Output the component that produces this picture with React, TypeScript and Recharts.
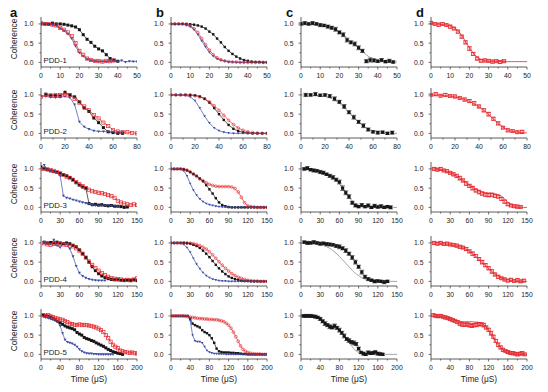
import React from 'react';
import { ComposedChart, Line, XAxis, YAxis, ErrorBar } from 'recharts';

const RED = '#e3262b';
const BLUE = '#3b4ba6';
const BLACK = '#161616';
const GRAY = '#8c8c8c';
const AXIS = '#333';

// ---- row 1 (PDD-1), time 0-50
const t1 = [0, 2, 4, 6, 8, 10, 12, 14, 16, 18, 20, 22, 24, 26, 28, 30, 32, 34, 36, 38, 40, 42, 44, 46, 48, 50];
const a1Black = [1.0, 1.0, 0.99, 1.02, 1.0, 1.0, 0.99, 0.97, 0.95, 0.92, 0.85, 0.72, 0.6, 0.52, 0.42, 0.35, 0.3, 0.2, 0.1, 0.06, 0.03, null, null, null, null, null];
const a1Red = [1.02, 1.0, 1.0, 0.98, 0.96, 0.9, 0.85, 0.78, 0.68, 0.5, 0.3, 0.2, 0.1, 0.06, 0.04, 0.03, 0.02, 0.04, 0.03, 0.05, null, null, null, null, null, null];
const a1Blue = [1.0, 1.0, 0.99, 0.97, 0.95, 0.88, 0.82, 0.74, 0.62, 0.42, 0.25, 0.16, 0.08, 0.05, 0.03, 0.02, 0.02, 0.02, 0.03, 0.04, 0.02, 0.05, 0.01, 0.03, 0.02, 0.02];
const b1Black = [1.0, 1.0, 1.0, 1.0, 1.0, 0.99, 0.98, 0.96, 0.93, 0.88, 0.8, 0.73, 0.62, 0.52, 0.4, 0.3, 0.22, 0.15, 0.1, 0.06, 0.04, 0.02, 0.01, 0.01, 0.0, 0.0];
const b1Red = [1.0, 1.0, 1.0, 1.0, 0.98, 0.95, 0.88, 0.78, 0.62, 0.46, 0.32, 0.2, 0.12, 0.07, 0.04, 0.02, 0.01, 0.01, 0, 0, 0, 0, 0, 0, 0, 0];
const b1Blue = [1.0, 1.0, 1.0, 0.99, 0.97, 0.93, 0.85, 0.72, 0.56, 0.4, 0.26, 0.16, 0.09, 0.05, 0.03, 0.01, 0.01, 0, 0, 0, 0, 0, 0, 0, 0, 0];
const c1Black = [1.0, 1.02, 1.0, 1.02, 1.0, 0.97, 0.96, 0.93, 0.9, 0.86, 0.78, 0.72, 0.58, 0.52, 0.48, 0.38, 0.3, 0.03, 0.06, 0.05, 0.03, 0.06, 0.02, 0.04, 0.01, null];
const c1Err = [0.03, 0.04, 0.03, 0.04, 0.03, 0.04, 0.03, 0.04, 0.04, 0.05, 0.04, 0.05, 0.05, 0.04, 0.05, 0.05, 0.04, 0.04, 0.05, 0.04, 0.03, 0.04, 0.03, 0.04, 0.03, 0];
const c1Fit = [1.0, 1.0, 1.0, 0.99, 0.98, 0.97, 0.95, 0.93, 0.89, 0.85, 0.79, 0.71, 0.62, 0.53, 0.45, 0.37, 0.28, 0.2, 0.13, 0.09, 0.06, 0.04, 0.02, 0.01, 0.01, 0.01];
const d1Red = [1.03, 1.0, 0.98, 1.0, 0.97, 0.93, 0.88, 0.8, 0.67, 0.52, 0.36, 0.22, 0.1, 0.04, 0.05, 0.04, 0.02, 0.03, 0.01, 0.03, null, null, null, null, null, null];
const d1Err = [0.03, 0.03, 0.04, 0.03, 0.03, 0.04, 0.03, 0.04, 0.04, 0.04, 0.05, 0.04, 0.04, 0.03, 0.04, 0.03, 0.04, 0.03, 0.04, 0.03, 0, 0, 0, 0, 0, 0];
const d1Fit = [1.0, 1.0, 0.99, 0.98, 0.97, 0.95, 0.9, 0.82, 0.7, 0.54, 0.38, 0.24, 0.14, 0.08, 0.05, 0.03, 0.02, 0.02, 0.02, 0.02, 0.02, 0.02, 0.02, 0.02, 0.02, 0.02];

// ---- row 2 (PDD-2), time 0-80
const t2 = [0, 4, 8, 12, 16, 20, 24, 28, 32, 36, 40, 44, 48, 52, 56, 60, 64, 68, 72, 76, 80];
const a2Black = [null, 1.02, 0.98, 0.98, 0.97, 1.07, 1.0, 0.95, 0.82, 0.66, 0.57, 0.4, 0.28, 0.15, 0.04, 0.02, 0.0, 0.0, null, null, null];
const a2Red = [0.95, 1.0, 0.99, 1.0, 1.0, 1.01, 1.0, 0.9, 0.8, 0.7, 0.6, 0.48, 0.39, 0.28, 0.19, 0.09, 0.05, 0.03, 0.03, 0.01, 0.0];
const a2Blue = [0.97, 0.96, 0.94, 0.93, 0.94, 0.96, 0.93, 0.75, 0.3, 0.17, 0.11, 0.07, 0.05, 0.05, 0.04, 0.04, 0.03, 0.03, null, null, null];
const b2Black = [1.0, 1.0, 1.0, 1.0, 1.0, 0.99, 0.96, 0.9, 0.8, 0.66, 0.5, 0.35, 0.22, 0.12, 0.06, 0.03, 0.01, 0, 0, 0, 0];
const b2Red = [1.0, 1.0, 1.0, 1.0, 0.99, 0.98, 0.95, 0.9, 0.82, 0.72, 0.6, 0.47, 0.34, 0.23, 0.14, 0.08, 0.04, 0.02, 0.01, 0, 0];
const b2Blue = [1.0, 1.0, 1.0, 0.99, 0.95, 0.85, 0.66, 0.45, 0.27, 0.14, 0.07, 0.03, 0.01, 0, 0, 0, 0, 0, 0, 0, 0];
const c2Black = [null, 1.0, 1.0, 1.02, 0.99, 1.0, 0.97, 0.9, 0.82, 0.7, 0.55, 0.42, 0.3, 0.2, 0.1, 0.04, 0.02, 0.03, 0.0, 0.02, null];
const c2Err = [0, 0.04, 0.03, 0.04, 0.03, 0.03, 0.04, 0.05, 0.04, 0.05, 0.04, 0.05, 0.04, 0.05, 0.04, 0.03, 0.04, 0.03, 0.03, 0.04, 0];
const c2Fit = [1.0, 1.0, 1.0, 0.99, 0.98, 0.96, 0.93, 0.87, 0.78, 0.67, 0.54, 0.41, 0.29, 0.19, 0.12, 0.07, 0.04, 0.02, 0.01, 0.01, 0.0];
const d2Red = [1.0, 1.02, 0.98, 1.0, 0.97, 0.96, 0.92, 0.88, 0.84, 0.78, 0.7, 0.6, 0.5, 0.38, 0.26, 0.15, 0.08, 0.06, 0.03, 0.04, null];
const d2Err = [0.03, 0.04, 0.03, 0.04, 0.03, 0.04, 0.03, 0.04, 0.04, 0.05, 0.04, 0.04, 0.05, 0.04, 0.04, 0.03, 0.04, 0.03, 0.03, 0.04, 0];
const d2Fit = [1.0, 1.0, 0.99, 0.98, 0.97, 0.95, 0.92, 0.88, 0.83, 0.77, 0.69, 0.6, 0.49, 0.37, 0.26, 0.16, 0.09, 0.05, 0.03, 0.02, 0.01];

// ---- rows 3 and 4 (PDD-3, PDD-4), time 0-150
const t3 = [0, 5, 10, 15, 20, 25, 30, 35, 40, 45, 50, 55, 60, 65, 70, 75, 80, 85, 90, 95, 100, 105, 110, 115, 120, 125, 130, 135, 140, 145, 150];
const a3Black = [1.05, 1.02, 0.98, 0.95, 0.93, 0.91, 0.89, 0.85, 0.82, 0.78, 0.72, 0.64, 0.58, 0.53, 0.5, 0.1, 0.07, 0.08, 0.06, 0.07, 0.05, 0.04, 0.05, 0.03, 0.03, 0.02, 0.0, 0.01, null, null, null];
const a3Red = [1.0, 1.0, 0.99, 0.97, 0.95, 0.92, 0.88, 0.84, 0.8, 0.76, 0.72, 0.66, 0.6, 0.55, 0.5, 0.46, 0.42, 0.4, 0.38, 0.37, 0.35, 0.32, 0.29, 0.25, 0.17, 0.13, 0.1, 0.08, 0.06, 0.08, 0.06];
const a3Blue = [null, 1.1, 0.98, 0.95, 0.94, 0.9, 0.82, 0.3, 0.25, 0.23, 0.2, 0.18, 0.15, 0.13, 0.11, 0.09, 0.06, 0.05, 0.04, 0.04, 0.05, 0.06, 0.04, 0.04, 0.03, null, null, null, null, null, null];
const b3Black = [1.0, 1.0, 1.0, 1.0, 0.99, 0.96, 0.92, 0.87, 0.82, 0.75, 0.68, 0.58, 0.47, 0.36, 0.24, 0.13, 0.06, 0.03, 0.01, 0, 0, 0, 0, 0, 0, 0, 0, 0, 0, 0, 0];
const b3Red = [1.0, 1.0, 1.0, 1.0, 0.99, 0.97, 0.92, 0.86, 0.8, 0.74, 0.69, 0.64, 0.6, 0.57, 0.55, 0.54, 0.54, 0.54, 0.54, 0.53, 0.49, 0.4, 0.26, 0.12, 0.04, 0.02, 0.01, 0, 0, 0, 0];
const b3Blue = [1.0, 1.0, 1.0, 0.99, 0.95, 0.82, 0.62, 0.45, 0.32, 0.22, 0.15, 0.1, 0.07, 0.05, 0.03, 0.02, 0.01, 0.01, 0, 0, 0, 0, 0, 0, 0, 0, 0, 0, 0, 0, 0];
const c3Black = [null, 1.0, 1.02, 0.98, 0.96, 0.95, 0.92, 0.9, 0.86, 0.82, 0.78, 0.72, 0.66, 0.5, 0.38, 0.28, 0.12, 0.05, 0.02, 0.06, 0.02, 0.05, 0.0, 0.04, 0.01, 0.03, 0.0, 0.02, 0.0, null, null];
const c3Err = [0, 0.03, 0.04, 0.03, 0.04, 0.03, 0.04, 0.04, 0.03, 0.04, 0.05, 0.04, 0.05, 0.06, 0.05, 0.05, 0.04, 0.04, 0.03, 0.04, 0.03, 0.04, 0.03, 0.04, 0.03, 0.04, 0.03, 0.03, 0.04, 0, 0];
const c3Fit = [1.0, 1.0, 0.99, 0.98, 0.96, 0.94, 0.92, 0.89, 0.86, 0.82, 0.77, 0.7, 0.61, 0.5, 0.38, 0.27, 0.17, 0.1, 0.06, 0.03, 0.02, 0.01, 0.01, 0, 0, 0, 0, 0, 0, 0, 0];
const d3Red = [null, 1.0, 0.98, 1.0, 0.96, 0.94, 0.9, 0.86, 0.82, 0.76, 0.7, 0.62, 0.56, 0.5, 0.44, 0.4, 0.36, 0.33, 0.32, 0.33, 0.3, 0.28, 0.22, 0.15, 0.08, 0.05, 0.03, 0.02, 0.01, null, null];
const d3Err = [0, 0.04, 0.03, 0.04, 0.03, 0.04, 0.03, 0.04, 0.04, 0.05, 0.04, 0.05, 0.04, 0.05, 0.04, 0.05, 0.04, 0.04, 0.05, 0.04, 0.04, 0.03, 0.04, 0.04, 0.03, 0.03, 0.03, 0.04, 0.03, 0, 0];
const d3Fit = [1.0, 1.0, 0.99, 0.98, 0.96, 0.93, 0.9, 0.86, 0.81, 0.76, 0.7, 0.64, 0.58, 0.52, 0.47, 0.43, 0.4, 0.38, 0.37, 0.36, 0.35, 0.33, 0.29, 0.22, 0.14, 0.07, 0.03, 0.01, 0, 0, 0];

const a4Black = [null, 1.02, 1.0, 1.01, 1.0, 1.02, 1.0, 0.98, 1.0, 0.98, 0.94, 0.9, 0.82, 0.72, 0.62, 0.5, 0.38, 0.28, 0.2, 0.14, 0.1, 0.07, 0.05, 0.04, 0.04, 0.03, 0.02, 0.03, 0.02, 0.04, 0.02];
const a4Red = [null, 0.99, 0.96, 0.95, 0.97, 0.98, 0.97, 0.96, 0.95, 0.93, 0.91, 0.86, 0.8, 0.72, 0.62, 0.52, 0.43, 0.35, 0.28, 0.22, 0.16, 0.12, 0.09, 0.07, 0.06, 0.05, 0.04, 0.04, 0.03, 0.05, 0.08];
const a4Blue = [null, 1.0, 0.98, 0.97, 1.08, 0.93, 0.88, 0.99, 0.97, 0.85, 0.65, 0.4, 0.22, 0.14, 0.09, 0.06, 0.04, 0.03, 0.02, 0.02, 0.02, null, null, null, null, null, null, null, null, null, null];
const b4Black = [1.0, 1.0, 1.0, 1.0, 1.0, 0.99, 0.98, 0.95, 0.92, 0.87, 0.8, 0.72, 0.63, 0.53, 0.43, 0.34, 0.26, 0.19, 0.13, 0.09, 0.06, 0.04, 0.02, 0.01, 0.01, 0, 0, 0, 0, 0, 0];
const b4Red = [1.0, 1.0, 1.0, 1.0, 1.0, 1.0, 0.99, 0.98, 0.96, 0.93, 0.89, 0.84, 0.77, 0.69, 0.6, 0.51, 0.42, 0.34, 0.27, 0.2, 0.15, 0.11, 0.08, 0.05, 0.03, 0.02, 0.01, 0.01, 0, 0, 0];
const b4Blue = [1.0, 1.0, 1.0, 0.99, 0.96, 0.88, 0.76, 0.6, 0.45, 0.33, 0.23, 0.15, 0.1, 0.06, 0.04, 0.02, 0.01, 0.01, 0, 0, 0, 0, 0, 0, 0, 0, 0, 0, 0, 0, 0];
const c4Black = [null, 1.02, 1.0, 1.0, 1.02, 1.0, 0.98, 0.99, 0.97, 0.96, 0.95, 0.92, 0.9, 0.86, 0.8, 0.72, 0.62, 0.5, 0.38, 0.24, 0.12, 0.06, 0.03, 0.0, 0.01, 0.0, -0.02, 0.0, null, null, null];
const c4Err = [0, 0.03, 0.04, 0.03, 0.04, 0.03, 0.04, 0.03, 0.04, 0.04, 0.03, 0.04, 0.05, 0.04, 0.05, 0.04, 0.05, 0.05, 0.04, 0.05, 0.04, 0.04, 0.03, 0.04, 0.03, 0.03, 0.04, 0.03, 0, 0, 0];
const c4Fit = [1.0, 1.0, 1.0, 0.99, 0.98, 0.97, 0.95, 0.93, 0.9, 0.86, 0.8, 0.73, 0.65, 0.56, 0.47, 0.38, 0.29, 0.21, 0.15, 0.1, 0.06, 0.04, 0.02, 0.01, 0.01, 0, 0, 0, 0, 0, 0];
const d4Red = [null, 1.0, 0.98, 1.0, 0.97, 0.98, 0.96, 0.95, 0.93, 0.9, 0.88, 0.84, 0.78, 0.72, 0.66, 0.58, 0.5, 0.42, 0.34, 0.26, 0.18, 0.12, 0.08, 0.05, 0.02, 0.04, 0.01, 0.03, 0.0, 0.02, null];
const d4Err = [0, 0.04, 0.03, 0.04, 0.03, 0.04, 0.03, 0.03, 0.04, 0.04, 0.03, 0.04, 0.04, 0.05, 0.04, 0.04, 0.05, 0.04, 0.04, 0.05, 0.04, 0.04, 0.03, 0.04, 0.03, 0.04, 0.03, 0.04, 0.03, 0.03, 0];
const d4Fit = [1.0, 1.0, 1.0, 0.99, 0.98, 0.97, 0.96, 0.94, 0.92, 0.9, 0.87, 0.83, 0.78, 0.72, 0.65, 0.57, 0.49, 0.41, 0.33, 0.26, 0.19, 0.14, 0.09, 0.06, 0.04, 0.02, 0.01, 0.01, 0, 0, 0];

// ---- row 5 (PDD-5), time 0-200
const t5 = [0, 5, 10, 15, 20, 25, 30, 35, 40, 45, 50, 55, 60, 65, 70, 75, 80, 85, 90, 95, 100, 105, 110, 115, 120, 125, 130, 135, 140, 145, 150, 155, 160, 165, 170, 175, 180, 185, 190, 195, 200];
const a5Black = [null, 1.02, 1.0, 0.99, 0.97, 0.93, 0.9, 0.86, 0.82, 0.78, 0.74, 0.71, 0.69, 0.67, 0.64, 0.57, 0.53, 0.5, 0.44, 0.41, 0.39, 0.36, 0.34, 0.3, 0.27, 0.24, 0.21, 0.17, 0.13, 0.1, 0.07, 0.05, 0.03, 0.02, 0.0, null, null, null, null, null, null];
const a5Red = [null, 1.02, 1.0, 1.02, 0.99, 0.97, 0.95, 0.93, 0.91, 0.9, 0.87, 0.84, 0.8, 0.79, 0.77, 0.76, 0.78, 0.76, 0.77, 0.76, 0.75, 0.74, 0.72, 0.7, 0.67, 0.63, 0.58, 0.5, 0.42, 0.33, 0.25, 0.2, 0.16, 0.1, 0.08, 0.06, 0.05, 0.04, 0.05, 0.03, 0.02];
const a5Blue = [null, 0.98, 0.96, 0.94, 0.92, 0.9, 0.88, 0.85, 0.74, 0.55, 0.38, 0.32, 0.3, 0.28, 0.25, 0.2, 0.13, 0.08, 0.05, 0.03, 0.02, 0.02, 0.01, 0.01, 0, 0, 0, 0, 0, 0, 0, null, null, null, null, null, null, null, null, null, null];
const b5Black = [1.0, 1.0, 1.0, 1.0, 1.0, 1.0, 1.0, 1.0, 0.93, 0.8, 0.76, 0.73, 0.7, 0.63, 0.58, 0.55, 0.5, 0.42, 0.3, 0.15, 0.08, 0.06, 0.05, 0.05, 0.05, 0.04, 0.04, 0.03, 0.03, 0.02, 0.01, 0.01, 0, 0, 0, 0, 0, 0, 0, 0, 0];
const b5Red = [1.0, 1.0, 1.0, 1.0, 1.0, 1.0, 0.99, 0.98, 0.97, 0.96, 0.95, 0.94, 0.93, 0.93, 0.92, 0.92, 0.91, 0.91, 0.9, 0.9, 0.89, 0.87, 0.85, 0.81, 0.76, 0.68, 0.58, 0.46, 0.34, 0.22, 0.13, 0.08, 0.05, 0.03, 0.02, 0.01, 0.01, 0.01, 0, 0, 0];
const b5Blue = [1.0, 1.0, 1.0, 1.0, 1.0, 1.0, 1.0, 0.99, 0.88, 0.5, 0.35, 0.33, 0.33, 0.3, 0.2, 0.1, 0.06, 0.04, 0.02, 0.02, 0.01, 0.01, 0.01, 0, 0, 0, 0, 0, 0, 0, 0, 0, 0, 0, 0, 0, 0, 0, 0, 0, 0];
const c5Black = [null, 1.0, 1.0, 1.0, 1.0, 0.99, 0.98, 0.96, 0.92, 0.86, 0.8, 0.76, 0.72, 0.7, 0.74, 0.69, 0.63, 0.56, 0.48, 0.4, 0.36, 0.32, 0.3, 0.27, 0.15, 0.05, 0.02, 0.0, 0.05, 0.03, 0.04, 0.06, 0.02, 0.01, 0.0, null, null, null, null, null, null];
const c5Err = [0, 0.03, 0.04, 0.03, 0.04, 0.03, 0.04, 0.03, 0.04, 0.04, 0.05, 0.04, 0.05, 0.04, 0.05, 0.04, 0.05, 0.04, 0.05, 0.04, 0.05, 0.04, 0.05, 0.04, 0.04, 0.03, 0.04, 0.03, 0.04, 0.03, 0.04, 0.03, 0.04, 0.03, 0.03, 0, 0, 0, 0, 0, 0];
const c5Fit = [1.0, 1.0, 1.0, 1.0, 1.0, 0.99, 0.98, 0.97, 0.95, 0.91, 0.86, 0.8, 0.76, 0.74, 0.72, 0.69, 0.64, 0.57, 0.49, 0.41, 0.32, 0.23, 0.15, 0.09, 0.05, 0.03, 0.02, 0.01, 0.01, 0, 0, 0, 0, 0, 0, 0, 0, 0, 0, 0, 0];
const d5Red = [null, 1.02, 1.0, 0.99, 1.0, 0.98, 0.96, 0.94, 0.92, 0.89, 0.87, 0.84, 0.8, 0.78, 0.77, 0.78, 0.76, 0.74, 0.76, 0.77, 0.79, 0.78, 0.76, 0.7, 0.64, 0.55, 0.46, 0.35, 0.25, 0.18, 0.12, 0.09, 0.06, 0.04, 0.03, 0.02, 0.0, 0.02, 0.03, 0.0, null];
const d5Err = [0, 0.03, 0.04, 0.03, 0.04, 0.03, 0.04, 0.03, 0.04, 0.04, 0.03, 0.04, 0.04, 0.05, 0.04, 0.04, 0.05, 0.04, 0.04, 0.05, 0.04, 0.04, 0.05, 0.04, 0.04, 0.05, 0.04, 0.04, 0.05, 0.04, 0.04, 0.03, 0.04, 0.03, 0.04, 0.03, 0.04, 0.03, 0.04, 0.03, 0];
const d5Fit = [1.0, 1.0, 1.0, 0.99, 0.98, 0.97, 0.96, 0.94, 0.92, 0.9, 0.89, 0.87, 0.86, 0.85, 0.85, 0.85, 0.85, 0.85, 0.84, 0.84, 0.83, 0.81, 0.77, 0.71, 0.63, 0.53, 0.43, 0.33, 0.24, 0.17, 0.11, 0.07, 0.05, 0.03, 0.02, 0.01, 0.01, 0, 0, 0, 0];

// ---- axes
const yTicks = [0, 0.25, 0.5, 0.75, 1.0];
const yMajors = [0, 0.5, 1.0];
const x50Ticks = [0, 5, 10, 15, 20, 25, 30, 35, 40, 45, 50];
const x50Majors = [0, 10, 20, 30, 40, 50];
const x80Ticks = [0, 10, 20, 30, 40, 50, 60, 70, 80];
const x80Majors = [0, 20, 40, 60, 80];
const x150Ticks = [0, 15, 30, 45, 60, 75, 90, 105, 120, 135, 150];
const x150Majors = [0, 30, 60, 90, 120, 150];
const x200Ticks = [0, 20, 40, 60, 80, 100, 120, 140, 160, 180, 200];
const x200Majors = [0, 40, 80, 120, 160, 200];

const panelLetters = ['a', 'b', 'c', 'd'];
const rowNames = ['PDD-1', 'PDD-2', 'PDD-3', 'PDD-4', 'PDD-5'];

// layout of the 4 x 5 grid (plot area corners)
const COL_LEFT = [41, 171, 301, 431];
const LETTER_X = [10, 156, 286, 416];
const ROW_TOP = [17, 88, 162, 236, 309];
const PLOT_W = 96;
const PLOT_H = 50;
const FONT = '"Liberation Sans", Arial, sans-serif';

type Kind = 'sq' | 'open' | 'circle' | 'tri' | 'fit';

interface Series {
  key: string;
  values: (number | null)[];
  kind: Kind;
  color: string;
  size?: number;
  line?: boolean;
  err?: number[];
}

const marker = (kind: Kind, color: string, size: number) => (p: any) => {
  const { cx, cy, index } = p;
  if (cx == null || cy == null || Number.isNaN(cy)) return <g key={`m${index}`} />;
  const h = size / 2;
  if (kind === 'sq') {
    return <rect key={`m${index}`} x={cx - h} y={cy - h} width={size} height={size} fill={color} />;
  }
  if (kind === 'open') {
    return <rect key={`m${index}`} x={cx - h} y={cy - h} width={size} height={size} fill="none" stroke={color} strokeWidth={0.7} />;
  }
  if (kind === 'circle') {
    return <circle key={`m${index}`} cx={cx} cy={cy} r={h} fill="none" stroke={color} strokeWidth={0.6} />;
  }
  return (
    <path
      key={`m${index}`}
      d={`M${cx - h},${cy - h * 0.7}L${cx + h},${cy - h * 0.7}L${cx},${cy + h}Z`}
      fill={color}
    />
  );
};

const XTick = ({ x, y, payload, majors }: any) => {
  const major = majors.includes(payload.value);
  return (
    <g>
      <line x1={x} x2={x} y1={y} y2={y + (major ? 2.5 : 1.5)} stroke={AXIS} strokeWidth={0.7} />
      {major && (
        <text x={x} y={y + 10.8} textAnchor="middle" fontSize={6.8} fill="#222" fontFamily={FONT}>
          {payload.value}
        </text>
      )}
    </g>
  );
};

const YTick = ({ x, y, payload }: any) => {
  const major = yMajors.includes(payload.value);
  return (
    <g>
      <line x1={x - (major ? 2.5 : 1.5)} x2={x} y1={y} y2={y} stroke={AXIS} strokeWidth={0.7} />
      {major && (
        <text x={x - 7.5} y={y + 2.4} textAnchor="end" fontSize={6.8} fill="#222" fontFamily={FONT}>
          {payload.value.toFixed(1)}
        </text>
      )}
    </g>
  );
};

interface PanelProps {
  col: number;
  row: number;
  time: number[];
  xMax: number;
  xTicks: number[];
  xMajors: number[];
  series: Series[];
}

const Panel: React.FC<PanelProps> = ({ col, row, time, xMax, xTicks, xMajors, series }) => {
  const rows = time.map((t, i) => {
    const r: Record<string, number | null> = { t };
    series.forEach((s) => {
      r[s.key] = s.values[i] ?? null;
      if (s.err) r[`${s.key}Err`] = s.err[i];
    });
    return r;
  });

  return (
    <div style={{ position: 'absolute', left: COL_LEFT[col] - 40, top: ROW_TOP[row] - 5 }}>
      <ComposedChart
        width={40 + PLOT_W + 10}
        height={5 + PLOT_H + 14}
        data={rows}
        margin={{ top: 5, right: 10, bottom: 0, left: 0 }}
      >
        <XAxis
          dataKey="t"
          type="number"
          domain={[0, xMax]}
          ticks={xTicks}
          interval={0}
          tickSize={0}
          tickMargin={0}
          tickLine={false}
          axisLine={{ stroke: AXIS, strokeWidth: 0.8 }}
          tick={(p: any) => <XTick {...p} majors={xMajors} />}
          height={14}
          allowDataOverflow
        />
        <YAxis
          type="number"
          domain={[-0.12, 1.18]}
          ticks={yTicks}
          interval={0}
          tickSize={0}
          tickMargin={0}
          tickLine={false}
          axisLine={{ stroke: AXIS, strokeWidth: 0.8 }}
          tick={(p: any) => <YTick {...p} />}
          width={40}
          allowDataOverflow
        />
        {series.map((s) => (
          <Line
            key={s.key}
            dataKey={s.key}
            type={s.kind === 'fit' ? 'monotone' : 'linear'}
            stroke={s.kind === 'fit' || s.line ? s.color : 'none'}
            strokeWidth={s.kind === 'fit' ? 0.8 : 0.7}
            dot={s.kind === 'fit' ? false : marker(s.kind, s.color, s.size ?? 3)}
            activeDot={false}
            connectNulls
            isAnimationActive={false}
          >
            {s.err && (
              <ErrorBar dataKey={`${s.key}Err`} width={2.4} strokeWidth={0.6} stroke={s.color} direction="y" />
            )}
          </Line>
        ))}
      </ComposedChart>
    </div>
  );
};

// column a: measured, connected markers
const colA = (black: (number | null)[], red: (number | null)[], blue: (number | null)[]): Series[] => [
  { key: 'black', values: black, kind: 'sq', color: BLACK, size: 3, line: true },
  { key: 'blue', values: blue, kind: 'tri', color: BLUE, size: 3, line: true },
  { key: 'red', values: red, kind: 'open', color: RED, size: 3.2, line: true },
];
// column b: simulated
const colB = (black: (number | null)[], red: (number | null)[], blue: (number | null)[]): Series[] => [
  { key: 'black', values: black, kind: 'sq', color: BLACK, size: 2.4, line: true },
  { key: 'blue', values: blue, kind: 'tri', color: BLUE, size: 2.6, line: true },
  { key: 'red', values: red, kind: 'circle', color: RED, size: 2.8, line: true },
];
const colC = (data: (number | null)[], err: number[], fit: number[]): Series[] => [
  { key: 'fit', values: fit, kind: 'fit', color: GRAY },
  { key: 'black', values: data, kind: 'sq', color: BLACK, size: 3.2, err },
];
const colD = (data: (number | null)[], err: number[], fit: number[]): Series[] => [
  { key: 'fit', values: fit, kind: 'fit', color: RED },
  { key: 'red', values: data, kind: 'open', color: RED, size: 3.2, err },
];

const App: React.FC = () => {
  const rowsDef = [
    { time: t1, xMax: 50, xTicks: x50Ticks, xMajors: x50Majors,
      panels: [colA(a1Black, a1Red, a1Blue), colB(b1Black, b1Red, b1Blue), colC(c1Black, c1Err, c1Fit), colD(d1Red, d1Err, d1Fit)] },
    { time: t2, xMax: 80, xTicks: x80Ticks, xMajors: x80Majors,
      panels: [colA(a2Black, a2Red, a2Blue), colB(b2Black, b2Red, b2Blue), colC(c2Black, c2Err, c2Fit), colD(d2Red, d2Err, d2Fit)] },
    { time: t3, xMax: 150, xTicks: x150Ticks, xMajors: x150Majors,
      panels: [colA(a3Black, a3Red, a3Blue), colB(b3Black, b3Red, b3Blue), colC(c3Black, c3Err, c3Fit), colD(d3Red, d3Err, d3Fit)] },
    { time: t3, xMax: 150, xTicks: x150Ticks, xMajors: x150Majors,
      panels: [colA(a4Black, a4Red, a4Blue), colB(b4Black, b4Red, b4Blue), colC(c4Black, c4Err, c4Fit), colD(d4Red, d4Err, d4Fit)] },
    { time: t5, xMax: 200, xTicks: x200Ticks, xMajors: x200Majors,
      panels: [colA(a5Black, a5Red, a5Blue), colB(b5Black, b5Red, b5Blue), colC(c5Black, c5Err, c5Fit), colD(d5Red, d5Err, d5Fit)] },
  ];

  return (
    <div style={{ position: 'absolute', left: 0, top: 0, width: 548, height: 392, background: '#fff', overflow: 'hidden' }}>
      {rowsDef.map((r, ri) =>
        r.panels.map((series, ci) => (
          <Panel
            key={`${ri}-${ci}`}
            col={ci}
            row={ri}
            time={r.time}
            xMax={r.xMax}
            xTicks={r.xTicks}
            xMajors={r.xMajors}
            series={series}
          />
        )),
      )}
      <svg width={548} height={392} style={{ position: 'absolute', left: 0, top: 0, pointerEvents: 'none' }} fontFamily={FONT}>
        {panelLetters.map((l, i) => (
          <text key={l} x={LETTER_X[i]} y={16.5} fontSize={13} fontWeight="bold" fill="#111">
            {l}
          </text>
        ))}
        {rowNames.map((n, i) => (
          <g key={n}>
            <text x={43.5} y={ROW_TOP[i] + 46.3} fontSize={7.8} fill="#222">{n}</text>
            <text
              transform={`translate(16.5, ${ROW_TOP[i] + 22}) rotate(-90)`}
              textAnchor="middle"
              fontSize={8.3}
              fill="#222"
            >
              Coherence
            </text>
          </g>
        ))}
        {COL_LEFT.map((x, i) => (
          <text key={`tl${i}`} x={x + PLOT_W / 2} y={382} textAnchor="middle" fontSize={8.3} fill="#222">
            Time (μS)
          </text>
        ))}
      </svg>
    </div>
  );
};

export default App;
